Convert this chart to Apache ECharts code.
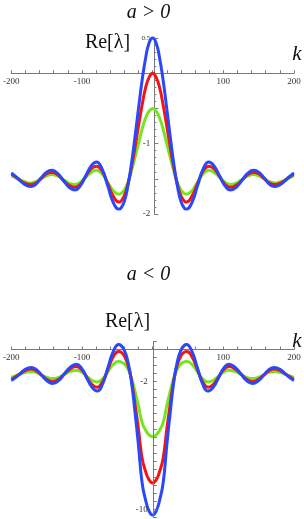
<!DOCTYPE html>
<html>
<head>
<meta charset="utf-8">
<script src="https://cdn.jsdelivr.net/npm/echarts@6/dist/echarts.min.js"></script>
<style>
html,body{margin:0;padding:0;background:#fff;}
#chart{width:304px;height:519px;}
</style>
</head>
<body>
<div id="chart"></div>
<script>
// ---- Data ----
// Upper panel (a > 0)
var kTop = [-200,-197,-189,-181,-173,-165.5,-158,-150.5,-143,-134.8,-126.5,-118.3,-110,-102.4,-94.8,-87.1,-79.5,-71.5,-63.5,-55.5,-47.5,-45,-40,-35,-30,-25,-20,-15,-10,-5,
  0,5,10,15,20,25,30,35,40,45,47.5,55.5,63.5,71.5,79.5,87.1,94.8,102.4,110,118.3,126.5,134.8,143,150.5,158,165.5,173,181,189,197,200];
var blueTop = [-1.42,-1.44,-1.51,-1.58,-1.61,-1.58,-1.49,-1.41,-1.38,-1.42,-1.52,-1.62,-1.66,-1.60,-1.46,-1.32,-1.26,-1.36,-1.60,-1.84,-1.93,-1.92,-1.82,-1.60,-1.29,-0.91,-0.50,-0.11,0.21,0.43,
  0.5,0.43,0.21,-0.11,-0.50,-0.91,-1.29,-1.60,-1.82,-1.92,-1.93,-1.84,-1.60,-1.36,-1.26,-1.32,-1.46,-1.60,-1.66,-1.62,-1.52,-1.42,-1.38,-1.41,-1.49,-1.58,-1.61,-1.58,-1.51,-1.44,-1.42];
var redTop = [-1.44,-1.45,-1.51,-1.56,-1.58,-1.56,-1.50,-1.43,-1.41,-1.44,-1.52,-1.59,-1.62,-1.58,-1.47,-1.36,-1.32,-1.39,-1.57,-1.75,-1.83,-1.82,-1.74,-1.58,-1.34,-1.06,-0.75,-0.46,-0.21,-0.06,
  0,-0.06,-0.21,-0.46,-0.75,-1.06,-1.34,-1.58,-1.74,-1.82,-1.83,-1.75,-1.57,-1.39,-1.32,-1.36,-1.47,-1.58,-1.62,-1.59,-1.52,-1.44,-1.41,-1.43,-1.50,-1.56,-1.58,-1.56,-1.51,-1.45,-1.44];
var greenTop = [-1.46,-1.47,-1.51,-1.54,-1.56,-1.54,-1.50,-1.46,-1.44,-1.46,-1.51,-1.56,-1.58,-1.55,-1.48,-1.41,-1.38,-1.43,-1.55,-1.67,-1.72,-1.71,-1.66,-1.55,-1.39,-1.20,-1.00,-0.80,-0.64,-0.54,
  -0.5,-0.54,-0.64,-0.80,-1.00,-1.20,-1.39,-1.55,-1.66,-1.71,-1.72,-1.67,-1.55,-1.43,-1.38,-1.41,-1.48,-1.55,-1.58,-1.56,-1.51,-1.46,-1.44,-1.46,-1.50,-1.54,-1.56,-1.54,-1.51,-1.47,-1.46];

// Lower panel (a < 0)
var kBottom = [-200,-196.8,-188.5,-180.3,-172,-164.4,-156.8,-149.1,-141.5,-133.1,-124.8,-116.4,-108,-100.6,-93.3,-85.9,-78.5,-70.9,-63.3,-55.6,-48,-45,-40,-35,-30,-25,-20,-15,-10,-5,
  0,5,10,15,20,25,30,35,40,45,48,55.6,63.3,70.9,78.5,85.9,93.3,100.6,108,116.4,124.8,133.1,141.5,149.1,156.8,164.4,172,180.3,188.5,196.8,200];
var blueBottom = [-1.93,-1.85,-1.55,-1.24,-1.12,-1.26,-1.62,-1.97,-2.12,-1.95,-1.52,-1.10,-0.92,-1.17,-1.76,-2.35,-2.60,-2.17,-1.14,-0.12,0.31,0.26,-0.05,-0.75,-2.00,-3.90,-6.00,-8.30,-9.40,-10.10,
  -10.35,-10.10,-9.40,-8.30,-6.00,-3.90,-2.00,-0.75,-0.05,0.26,0.31,-0.12,-1.14,-2.17,-2.60,-2.35,-1.76,-1.17,-0.92,-1.10,-1.52,-1.95,-2.12,-1.97,-1.62,-1.26,-1.12,-1.24,-1.55,-1.85,-1.93];
var redBottom = [-1.85,-1.79,-1.55,-1.32,-1.22,-1.34,-1.61,-1.88,-2.00,-1.86,-1.54,-1.21,-1.07,-1.26,-1.72,-2.18,-2.36,-2.03,-1.24,-0.45,-0.12,-0.16,-0.40,-0.94,-1.90,-3.37,-4.99,-6.76,-7.61,-8.15,
  -8.34,-8.15,-7.61,-6.76,-4.99,-3.37,-1.90,-0.94,-0.40,-0.16,-0.12,-0.45,-1.24,-2.03,-2.36,-2.18,-1.72,-1.26,-1.07,-1.21,-1.54,-1.86,-2.00,-1.88,-1.61,-1.34,-1.22,-1.32,-1.55,-1.79,-1.85];
var greenBottom = [-1.73,-1.70,-1.56,-1.43,-1.38,-1.44,-1.60,-1.75,-1.82,-1.74,-1.56,-1.37,-1.29,-1.40,-1.66,-1.92,-2.03,-1.84,-1.39,-0.93,-0.74,-0.77,-0.90,-1.21,-1.77,-2.60,-3.53,-4.55,-5.03,-5.34,
  -5.45,-5.34,-5.03,-4.55,-3.53,-2.60,-1.77,-1.21,-0.90,-0.77,-0.74,-0.93,-1.39,-1.84,-2.03,-1.92,-1.66,-1.40,-1.29,-1.37,-1.56,-1.74,-1.82,-1.75,-1.60,-1.44,-1.38,-1.43,-1.56,-1.70,-1.73];

// Tick labels
var xTickLabels = [-200, -100, 100, 200];
var yTopLabels = [0.5, -1, -2];
var yBottomLabels = [-2, -10];

// Texts
var titleTop = 'a > 0';
var titleBottom = 'a < 0';
var yName = 'Re[\u03bb]';
var xName = 'k';

// ---- Chart ----
var SERIF = '"Liberation Serif", "DejaVu Serif", serif';
var C_BLUE = '#2a48fa', C_RED = '#f41414', C_GREEN = '#76e61c';
var AXIS_COLOR = '#7a7a7a';

// panel geometry
var G = [
  { left: 8, right: 10, top: 38, height: 176, yMin: -2, yMax: 0.5 },
  { left: 9, right: 10, top: 341.5, height: 176, yMin: -10.5, yMax: 0.5 }
];
var W = 304;

function zip(k, v) { return k.map(function (x, i) { return [x, v[i]]; }); }

// offsets that bring the axes onto the zero lines (labels follow the axis)
function xOffset(g) { return -(g.height * (0 - g.yMin) / (g.yMax - g.yMin)); }
function yOffset(g) { var w = W - g.left - g.right; return -(w / 2); }

function xAxisCfg(gi) {
  return {
    gridIndex: gi, type: 'value', min: -200, max: 200, interval: 100,
    position: 'bottom', offset: xOffset(G[gi]),
    axisLine: { onZero: false, lineStyle: { color: AXIS_COLOR, width: 1 } },
    axisTick: { show: true, inside: true, length: 3, lineStyle: { color: AXIS_COLOR } },
    minorTick: { show: true, splitNumber: 5, length: 3, lineStyle: { color: AXIS_COLOR } },
    splitLine: { show: false },
    axisLabel: {
      fontFamily: SERIF, fontSize: 9, color: '#333', margin: 4,
      formatter: function (v) { return xTickLabels.indexOf(v) >= 0 ? String(v) : ''; }
    }
  };
}

function lineSeries(xi, color, k, v, z) {
  return {
    type: 'line', xAxisIndex: xi, yAxisIndex: xi, data: zip(k, v),
    showSymbol: false, smooth: true, clip: false, z: z,
    lineStyle: { color: color, width: 3 }, itemStyle: { color: color }
  };
}

function txt(x, y, s, size, italic) {
  return {
    type: 'text', x: x, y: y,
    style: {
      text: s, fontFamily: SERIF, fontSize: size, fontStyle: italic ? 'italic' : 'normal',
      fill: '#111', textAlign: 'center', textVerticalAlign: 'middle'
    }
  };
}

var chart = echarts.init(document.getElementById('chart'), null, { renderer: 'canvas' });
chart.setOption({
  animation: false,
  backgroundColor: '#fff',
  grid: G.map(function (g) { return { left: g.left, right: g.right, top: g.top, height: g.height }; }),
  xAxis: [xAxisCfg(0), xAxisCfg(1)],
  yAxis: [
    {
      gridIndex: 0, type: 'value', min: G[0].yMin, max: G[0].yMax, interval: 0.5,
      position: 'left', offset: yOffset(G[0]),
      axisLine: { show: true, onZero: false, lineStyle: { color: AXIS_COLOR, width: 1 } },
      axisTick: { show: true, inside: true, length: 4, lineStyle: { color: AXIS_COLOR } },
      minorTick: { show: true, splitNumber: 5, length: 2, lineStyle: { color: AXIS_COLOR } },
      splitLine: { show: false },
      axisLabel: {
        fontFamily: SERIF, fontSize: 9, color: '#333', margin: 4,
        formatter: function (v) {
          if (Math.abs(v - 0.5) < 1e-9) return '{s|0.5}';
          for (var i = 0; i < yTopLabels.length; i++) if (Math.abs(v - yTopLabels[i]) < 1e-9) return String(v);
          return '';
        },
        rich: { s: { fontFamily: SERIF, fontSize: 7, color: '#333' } }
      }
    },
    {
      gridIndex: 1, type: 'value', min: G[1].yMin, max: G[1].yMax, interval: 0.5,
      position: 'left', offset: yOffset(G[1]), z: 6,
      axisLine: { show: true, onZero: false, lineStyle: { color: AXIS_COLOR, width: 1 } },
      axisTick: { show: true, inside: true, length: 3, lineStyle: { color: AXIS_COLOR } },
      splitLine: { show: false },
      axisLabel: {
        fontFamily: SERIF, fontSize: 9, color: '#333', margin: 6,
        formatter: function (v) {
          for (var i = 0; i < yBottomLabels.length; i++) if (Math.abs(v - yBottomLabels[i]) < 1e-9) return String(v);
          return '';
        }
      }
    }
  ],
  series: [
    lineSeries(0, C_GREEN, kTop, greenTop, 2),
    lineSeries(0, C_RED, kTop, redTop, 3),
    lineSeries(0, C_BLUE, kTop, blueTop, 4),
    lineSeries(1, C_GREEN, kBottom, greenBottom, 2),
    lineSeries(1, C_RED, kBottom, redBottom, 3),
    lineSeries(1, C_BLUE, kBottom, blueBottom, 4)
  ],
  graphic: [
    txt(148.5, 13, titleTop, 20, true),
    txt(107.5, 43, yName, 20, false),
    txt(297, 54, xName, 21, true),
    txt(148.5, 275, titleBottom, 20, true),
    txt(127.5, 322, yName, 20, false),
    txt(297, 341, xName, 21, true)
  ]
});
</script>
</body>
</html>
